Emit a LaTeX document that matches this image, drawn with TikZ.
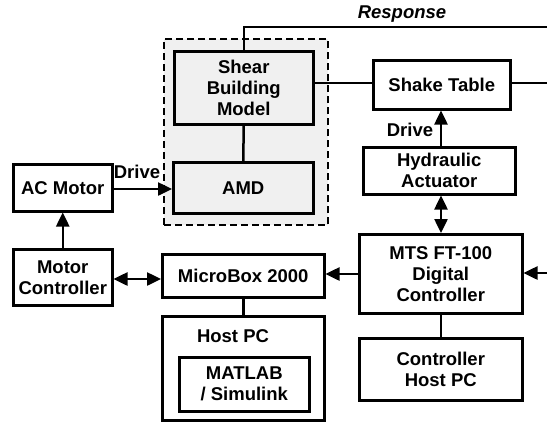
\documentclass[tikz,border=0pt]{standalone}
\usepackage{fontspec}
\setmainfont{Liberation Sans}
\usetikzlibrary{arrows.meta}
\definecolor{boxgray}{HTML}{F0F0F0}
\begin{document}
\begin{tikzpicture}[x=1pt,y=-1pt,
  box/.style={draw=black, line width=2.5pt, align=center, font=\bfseries\fontsize{18.5}{21}\selectfont, inner sep=0pt},
  gbox/.style={box, fill=boxgray},
  lbl/.style={font=\bfseries\fontsize{18.5}{21}\selectfont, inner sep=0pt},
  conn/.style={line width=2.5pt},
  arr/.style={conn, -{Triangle[length=14pt,width=13pt]}},
  darr/.style={conn, {Triangle[length=14pt,width=13pt]}-{Triangle[length=14pt,width=13pt]}}]
\useasboundingbox (0,0) rectangle (547,421);
% dashed group
\node[draw=black, line width=2pt, dash pattern=on 7pt off 4pt, fill=boxgray, minimum width=164pt, minimum height=186pt, anchor=north west, inner sep=0pt] (grp) at (163,38) {};
\node[gbox, minimum width=139pt, minimum height=73pt, anchor=north west] (sbm) at (173,50) {Shear\\Building\\Model};
\node[gbox, minimum width=140pt, minimum height=51pt, anchor=north west] (amd) at (172,161) {AMD};
\node[box, minimum width=137pt, minimum height=49pt, anchor=north west] (st) at (372,59) {Shake Table};
\node[box, minimum width=152pt, minimum height=47pt, anchor=north west] (hyd) at (362,146) {Hydraulic\\Actuator};
\node[box, minimum width=163pt, minimum height=79pt, anchor=north west] (mts) at (358,233) {MTS FT-100\\Digital\\Controller};
\node[box, minimum width=163pt, minimum height=62pt, anchor=north west] (chp) at (358,337) {Controller\\Host PC};
\node[box, minimum width=162pt, minimum height=43pt, anchor=north west] (mb) at (161,253) {MicroBox 2000};
\node[box, minimum width=162pt, minimum height=104pt, anchor=north west] (hpc) at (161,315) {};
\node[lbl] (hpct) at (233,336) {Host PC};
\node[box, minimum width=130pt, minimum height=54pt, anchor=north west] (mat) at (178,356) {MATLAB\\/ Simulink};
\node[box, minimum width=99pt, minimum height=47pt, anchor=north west] (acm) at (12,163) {AC Motor};
\node[box, minimum width=99pt, minimum height=56pt, anchor=north west] (mc) at (12,248) {Motor\\Controller};
% labels
\node[lbl, font=\bfseries\itshape\fontsize{18.5}{21}\selectfont] (resp) at (402,14) {Response};
\node[lbl] (drv1) at (410,130) {Drive};
\node[lbl] (drv2) at (137,172) {Drive};
% free ends
\coordinate (rend) at (547,27);
\coordinate (stend) at (547,83);
\coordinate (mtsin) at (547,273);
% connectors
\draw[conn] (sbm.north) |- (rend);
\draw[conn] (sbm.east |- 0,83) -- (st.west |- 0,83);
\draw[conn] (st.east |- 0,83) -- (stend);
\draw[conn] (sbm.south) -- (amd.north);
\draw[arr] (hyd.north -| 441,0) -- (st.south -| 441,0);
\draw[darr] (hyd.south -| 441,0) -- (mts.north -| 441,0);
\draw[arr] (mtsin) -- (mts.east |- mtsin);
\draw[arr] (mts.west |- 0,274) -- (mb.east |- 0,274);
\draw[conn] (mts.south) -- (chp.north);
\draw[conn] (mb.south) -- (hpc.north);
\draw[arr] (acm.east |- 0,189) -- (amd.west |- 0,189);
\draw[arr] (mc.north) -- (acm.south);
\draw[darr] (mc.east |- 0,279) -- (mb.west |- 0,279);
\end{tikzpicture}
\end{document}
